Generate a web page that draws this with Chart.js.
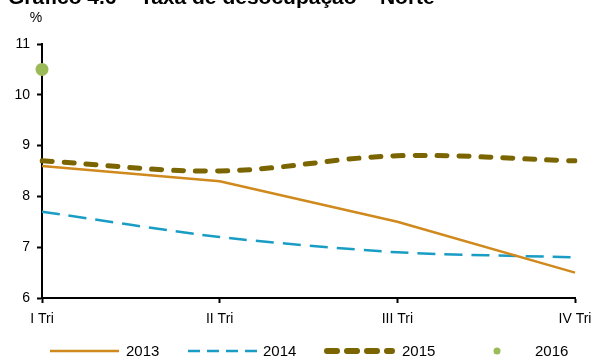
<!DOCTYPE html>
<html>
<head>
<meta charset="utf-8">
<script src="https://cdn.jsdelivr.net/npm/chart.js@4/dist/chart.umd.min.js"></script>
<style>
  html, body { margin: 0; padding: 0; background: #fff; }
  #wrap { position: relative; width: 595px; height: 361px; }
</style>
</head>
<body>
<div id="wrap"><canvas id="c" width="595" height="361"></canvas></div>
<script>
// Quarterly unemployment rate, Norte region (%)
const quarters = ['I Tri', 'II Tri', 'III Tri', 'IV Tri'];
const rate2013 = [8.6, 8.3, 7.5, 6.5];
const rate2014 = [7.7, 7.2, 6.9, 6.8];
const rate2015 = [8.7, 8.5, 8.8, 8.7];
const rate2016 = [10.5, null, null, null];
const yTicks = [6, 7, 8, 9, 10, 11];

const titleText = 'Gráfico 4.6 – Taxa de desocupação – Norte';
const FONT = '"Liberation Sans", Arial, sans-serif';

// Title (partly above the canvas edge), unit label and bottom legend
const decorations = {
  id: 'decorations',
  afterDraw(chart) {
    const ctx = chart.ctx;
    ctx.save();
    ctx.fillStyle = '#000';
    ctx.font = 'bold 21px ' + FONT;
    ctx.textAlign = 'left';
    ctx.textBaseline = 'alphabetic';
    ctx.fillText(titleText, 8, 4);

    ctx.font = '14px ' + FONT;
    ctx.textAlign = 'center';
    ctx.fillText('%', 36, 22);

    // legend: sample mark followed by the series name
    const y = 351;
    const items = chart.data.datasets;
    const layout = [
      { x0: 50, x1: 119, tx: 126, dash: [] },
      { x0: 188, x1: 257, tx: 263, dash: [12, 7] },
      { x0: 327, x1: 392, tx: 402, dash: [10, 10] },
      { x0: 497, x1: 497, tx: 535 }
    ];
    items.forEach((ds, i) => {
      const L = layout[i];
      if (ds.showLine === false) {
        ctx.beginPath();
        ctx.fillStyle = ds.pointBackgroundColor;
        ctx.arc(L.x0, y, 3.5, 0, Math.PI * 2);
        ctx.fill();
      } else {
        ctx.beginPath();
        ctx.strokeStyle = ds.borderColor;
        ctx.lineWidth = ds.borderWidth === 5 ? 6 : ds.borderWidth;
        ctx.lineCap = ds.borderCapStyle || 'butt';
        ctx.setLineDash(L.dash);
        ctx.moveTo(L.x0, y);
        ctx.lineTo(L.x1, y);
        ctx.stroke();
        ctx.setLineDash([]);
      }
      ctx.fillStyle = '#000';
      ctx.font = '15px ' + FONT;
      ctx.textAlign = 'left';
      ctx.textBaseline = 'middle';
      ctx.fillText(ds.label, L.tx, y + 1);
    });
    ctx.restore();
  }
};

new Chart(document.getElementById('c'), {
  type: 'line',
  data: {
    labels: quarters,
    datasets: [
      {
        label: '2013', data: rate2013,
        borderColor: '#D0891C', borderWidth: 2.5, tension: 0,
        pointRadius: 0, fill: false
      },
      {
        label: '2014', data: rate2014,
        borderColor: '#1A9DC4', borderWidth: 2.5, borderDash: [18, 9],
        tension: 0.25, pointRadius: 0, fill: false
      },
      {
        label: '2015', data: rate2015,
        borderColor: '#7A6500', borderWidth: 5, borderDash: [10, 12],
        borderCapStyle: 'round', tension: 0.35, pointRadius: 0, fill: false
      },
      {
        label: '2016', data: rate2016, showLine: false,
        pointRadius: 6.5, pointBackgroundColor: '#9BBB59',
        pointBorderColor: '#9BBB59', pointBorderWidth: 0, clip: false
      }
    ]
  },
  options: {
    responsive: false,
    animation: false,
    events: [],
    layout: { padding: { left: 0, right: 20, top: 44, bottom: 0 } },
    plugins: { legend: { display: false }, title: { display: false }, tooltip: { enabled: false } },
    scales: {
      x: {
        offset: false,
        grid: { drawOnChartArea: false, drawTicks: true, tickLength: 5, tickColor: '#000', tickWidth: 2 },
        border: { color: '#000', width: 2 },
        ticks: { color: '#000', font: { family: FONT, size: 14 }, padding: 8, maxRotation: 0, autoSkip: false },
        afterFit(scale) { scale.height = 63; scale.paddingLeft = 0; scale.paddingRight = 0; }
      },
      y: {
        min: 6, max: 11,
        afterBuildTicks(scale) { scale.ticks = yTicks.map(v => ({ value: v })); },
        grid: { drawOnChartArea: false, drawTicks: true, tickLength: 5, tickColor: '#000', tickWidth: 2 },
        border: { color: '#000', width: 2 },
        ticks: { color: '#000', font: { family: FONT, size: 14 }, padding: 7 },
        afterFit(scale) { scale.width = 42; scale.paddingTop = 0; scale.paddingBottom = 0; }
      }
    }
  },
  plugins: [decorations]
});
</script>
</body>
</html>
